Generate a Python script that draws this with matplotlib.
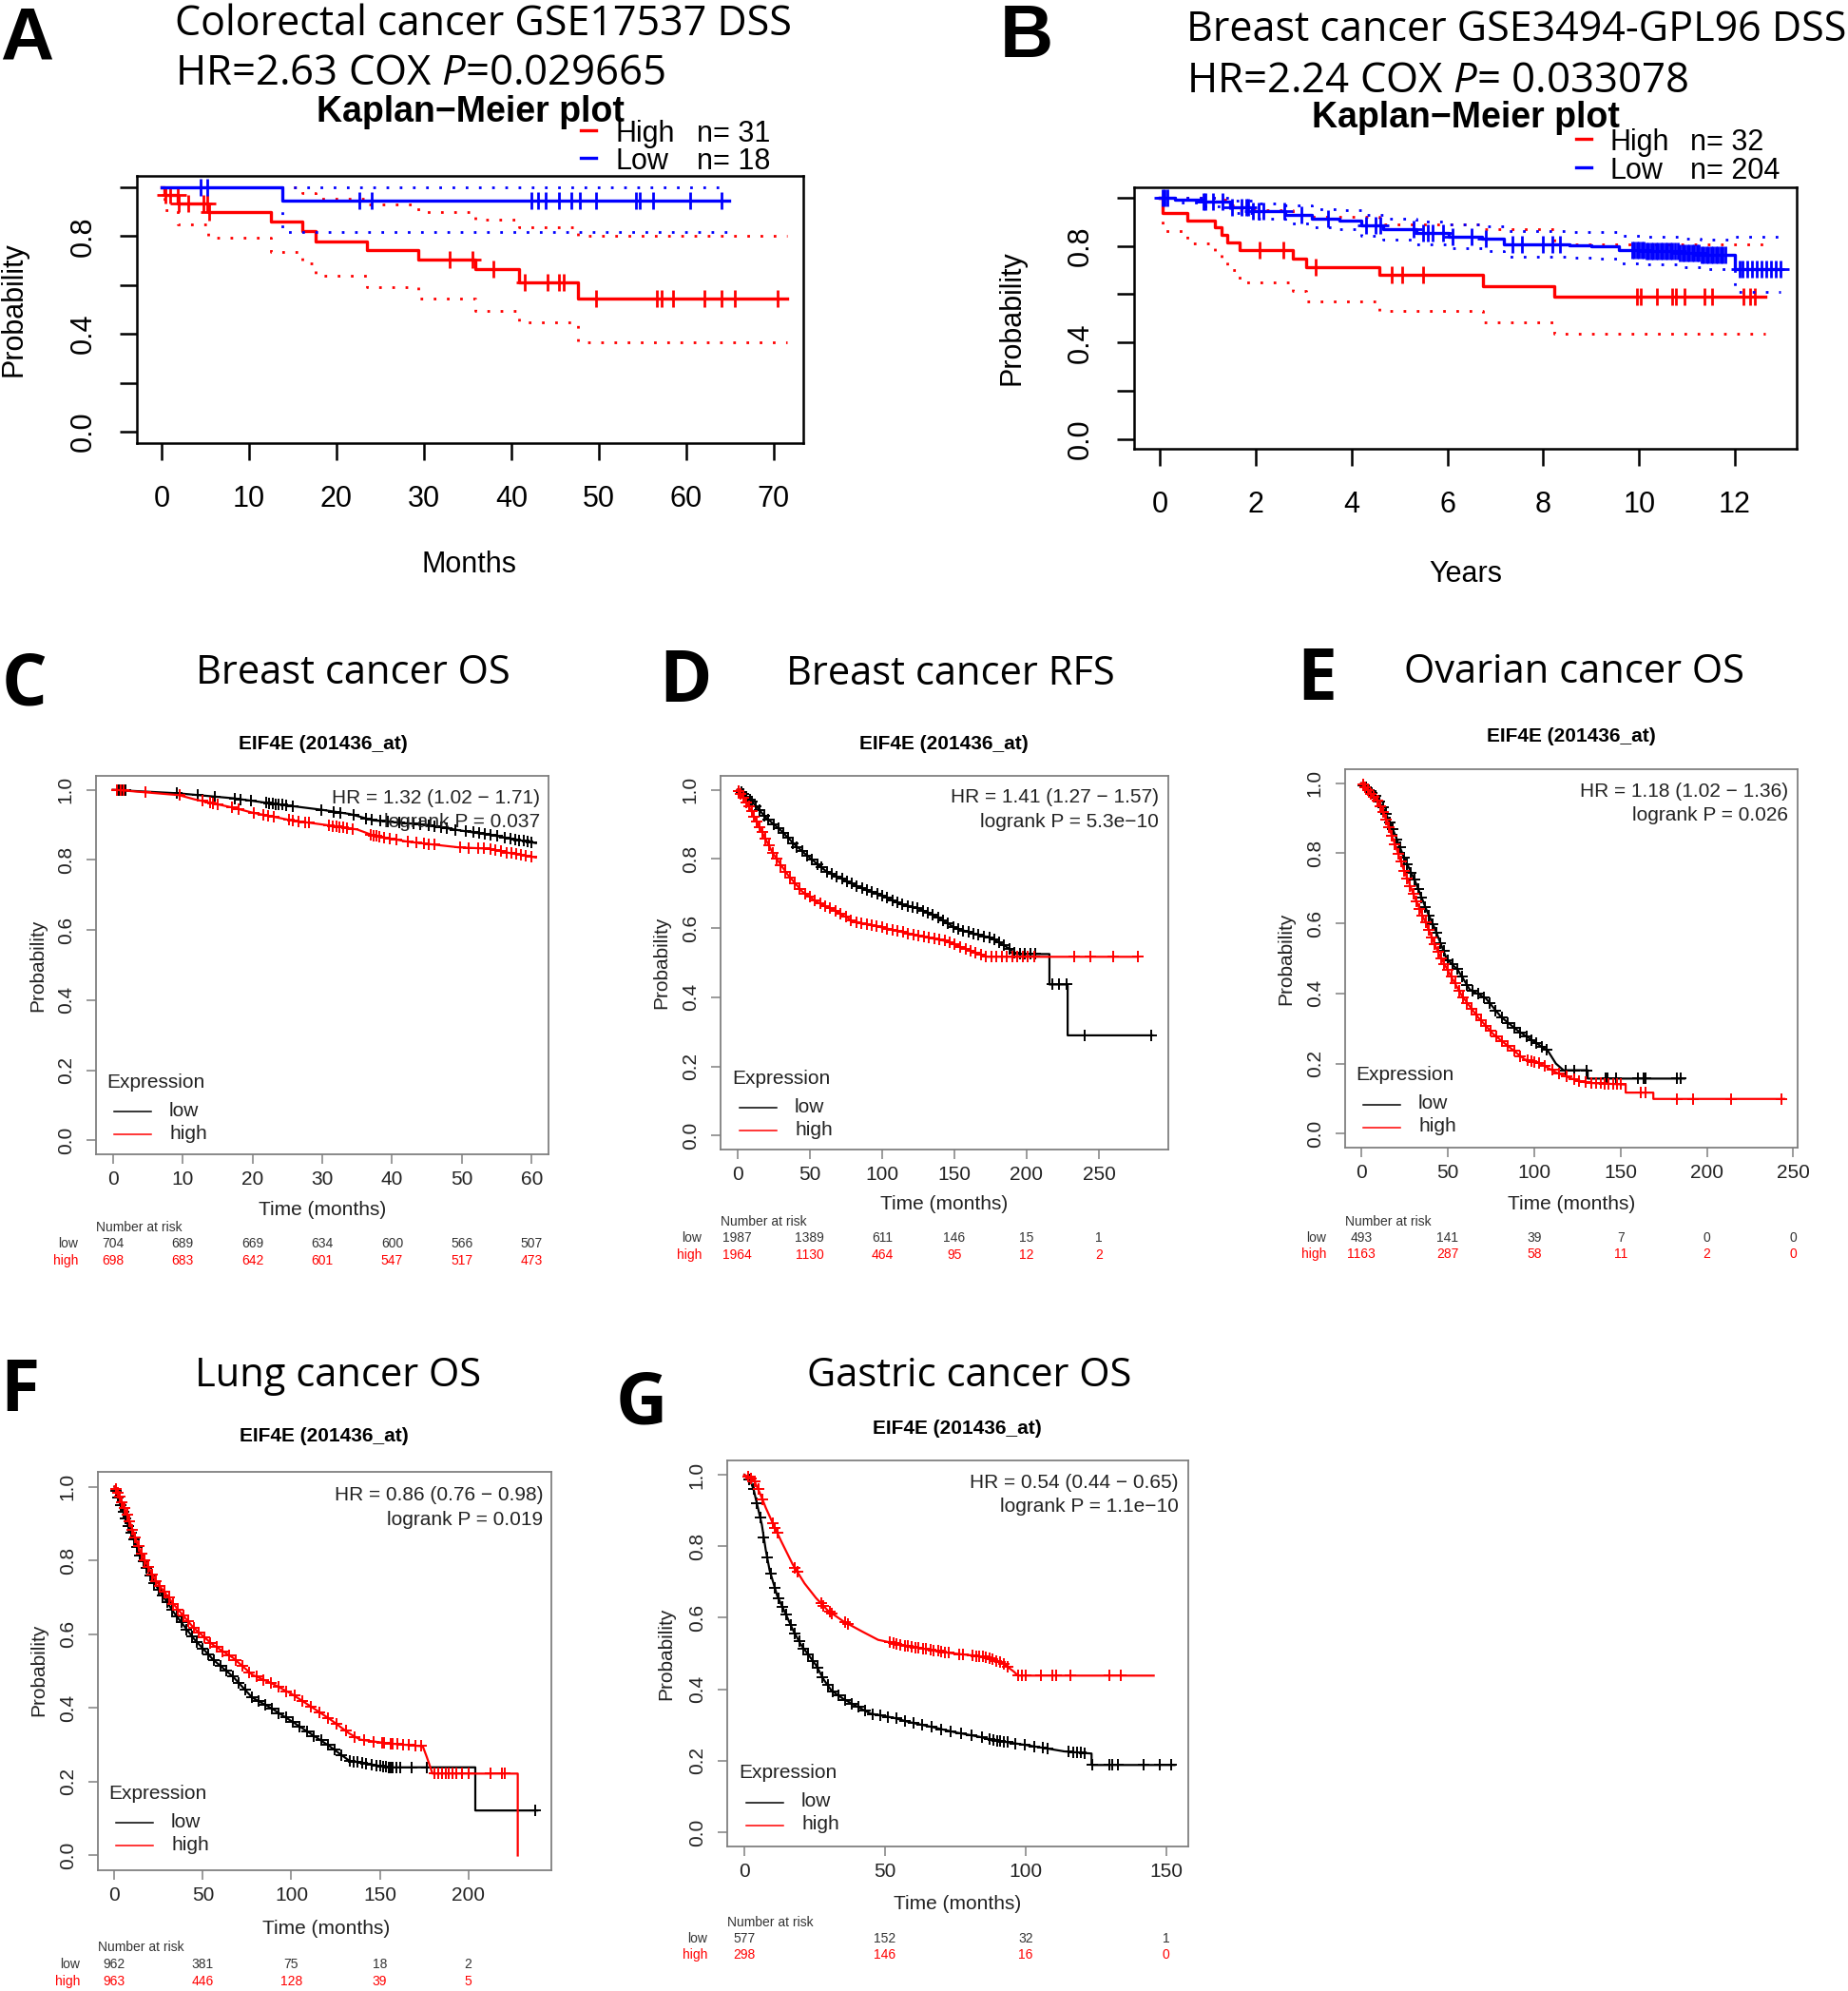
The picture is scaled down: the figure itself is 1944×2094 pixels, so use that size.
import matplotlib.pyplot as plt
import numpy as np
from matplotlib.lines import Line2D
from matplotlib.transforms import blended_transform_factory

plt.rcParams['font.family'] = ['Liberation Sans', 'DejaVu Sans']
plt.rcParams['mathtext.fontset'] = 'custom'
plt.rcParams['mathtext.rm'] = 'Open Sans'
plt.rcParams['mathtext.it'] = 'Open Sans:italic'

W, H = 1944, 2094
RED = '#ff0000'
BLUE = '#0000ff'
GREY = '#808080'

# ---------------- A: Colorectal cancer GSE17537 DSS (months) ----------------
a_high_t = [0, 0.3, 1.9, 5.3, 12.5, 16.1, 17.6, 23.5, 29.4, 35.9, 40.9, 47.6, 71.5]
a_high_s = [1.0, 0.968, 0.935, 0.90, 0.862, 0.82, 0.78, 0.742, 0.704, 0.664, 0.612, 0.545, 0.545]
a_high_lo = [1.0, 0.906, 0.849, 0.793, 0.737, 0.69, 0.637, 0.593, 0.545, 0.496, 0.447, 0.366, 0.366]
a_high_up = [1.0, 1.0, 1.0, 1.0, 1.0, 0.975, 0.954, 0.93, 0.90, 0.868, 0.837, 0.80, 0.80]
a_high_cens = [0.4, 1.0, 1.8, 2.0, 3.0, 4.8, 5.2, 5.4, 32.9, 35.6, 37.9, 41.5, 44.1, 45.4,
               46.0, 49.7, 56.7, 57.2, 58.5, 62.1, 64.0, 65.6, 70.5]
a_low_t = [0, 13.8, 64.9]
a_low_s = [1.0, 0.944, 0.944]
a_low_lo = [1.0, 0.817, 0.817]
a_low_up = [1.0, 1.0, 1.0]
a_low_cens = [4.5, 5.2, 22.6, 24.0, 42.3, 43.1, 43.9, 45.4, 46.9, 47.8, 49.7, 54.3, 54.7,
              56.2, 60.5, 64.0]
a_xticks = [0, 10, 20, 30, 40, 50, 60, 70]

# ---------------- B: Breast cancer GSE3494-GPL96 DSS (years) ----------------
b_high_t = [0, 0.05, 0.57, 1.14, 1.29, 1.4, 1.66, 2.78, 3.06, 4.57, 6.75, 8.24, 12.64]
b_high_s = [1.0, 0.938, 0.907, 0.876, 0.845, 0.814, 0.784, 0.748, 0.714, 0.679, 0.634, 0.59, 0.59]
b_high_lo = [1.0, 0.861, 0.811, 0.77, 0.735, 0.70, 0.651, 0.614, 0.572, 0.533, 0.482, 0.437, 0.437]
b_high_up = [1.0, 1.0, 1.0, 1.0, 0.99, 0.97, 0.95, 0.93, 0.92, 0.89, 0.869, 0.807, 0.807]
b_high_cens = [2.07, 2.58, 3.25, 4.83, 5.06, 5.5, 9.95, 10.03, 10.38, 10.7, 10.77, 10.95,
               11.36, 11.52, 12.18, 12.32, 12.41]
b_low_t = [0, 0.32, 0.89, 1.46, 1.92, 2.61, 3.18, 3.75, 4.21, 4.66, 5.35, 6.03, 6.72, 7.18,
           7.98, 8.55, 9.0, 9.58, 10.15, 10.83, 11.29, 12.0, 12.95]
b_low_s = [1.0, 0.992, 0.985, 0.96, 0.943, 0.93, 0.915, 0.907, 0.884, 0.869, 0.853, 0.838,
           0.83, 0.807, 0.807, 0.802, 0.80, 0.784, 0.779, 0.771, 0.765, 0.706, 0.706]
b_low_lo = [1.0, 0.98, 0.965, 0.935, 0.912, 0.895, 0.878, 0.868, 0.843, 0.826, 0.807, 0.79,
            0.781, 0.756, 0.756, 0.75, 0.747, 0.729, 0.723, 0.714, 0.706, 0.61, 0.61]
b_low_up = [1.0, 1.0, 1.0, 0.987, 0.975, 0.967, 0.954, 0.948, 0.927, 0.914, 0.9, 0.888,
            0.882, 0.862, 0.862, 0.858, 0.857, 0.843, 0.839, 0.832, 0.828, 0.84, 0.84]
b_low_cens = [0.05, 0.1, 0.15, 0.9, 0.95, 1.1, 1.3, 1.5, 1.7, 1.8, 1.85, 1.95, 2.05, 2.15,
              2.6, 2.95, 3.5, 4.3, 4.5, 4.6, 5.3, 5.5, 5.6, 5.7, 5.9, 6.1, 6.5, 6.8, 7.35,
              7.55, 8.0, 8.2, 8.35, 9.85, 9.9, 9.95, 10.0, 10.05, 10.1, 10.15, 10.2, 10.25,
              10.3, 10.35, 10.4, 10.45, 10.5, 10.55, 10.6, 10.65, 10.7, 10.75, 10.8, 10.85,
              10.9, 10.95, 11.0, 11.05, 11.1, 11.15, 11.2, 11.25, 11.3, 11.35, 11.4, 11.45,
              11.5, 11.55, 11.6, 11.65, 11.7, 11.75, 11.8, 12.1, 12.15, 12.25, 12.35, 12.45,
              12.55, 12.65, 12.75, 12.85, 12.95]
b_xticks = [0, 2, 4, 6, 8, 10, 12]

# ---------------- C: Breast cancer OS ----------------
c_low_t = [0, 9.5, 17.3, 22.8, 30, 34, 37.3, 45, 49.5, 54.5, 56.2, 60.6]
c_low_s = [1.0, 0.99, 0.976, 0.961, 0.943, 0.931, 0.913, 0.90, 0.885, 0.87, 0.864, 0.848]
c_low_cens = [0.8, 1.3, 1.8, 9.2, 12.2, 14.6, 17.5, 18.3, 19.8, 21.9, 22.4, 22.9, 23.3, 23.8,
              24.3, 24.8, 25.8, 29.8, 31.6, 32.6, 34.5, 36.2, 37.1, 38.3, 39.4, 41.0, 42.2,
              43.1, 44.0, 45.2, 46.1, 47.0, 47.9, 49.0, 50.5, 51.6, 52.4, 53.3, 54.1, 55.0,
              56.2, 56.9, 57.6, 58.2, 58.8, 59.4, 60.0]
c_high_t = [0, 0.5, 9.5, 11.7, 17.3, 20, 25.6, 31.2, 35, 37.3, 42.3, 49.5, 54, 56.2, 60.6]
c_high_s = [1.0, 1.0, 0.985, 0.973, 0.949, 0.935, 0.913, 0.898, 0.887, 0.87, 0.852, 0.836,
            0.832, 0.822, 0.807]
c_high_cens = [0.6, 1.2, 1.6, 4.7, 9.6, 12.8, 13.9, 14.4, 15.0, 17.0, 18.0, 20.2, 21.6, 22.3,
               23.1, 25.3, 25.8, 26.6, 27.5, 28.1, 31.0, 31.5, 32.0, 32.5, 33.0, 33.6, 34.3,
               36.9, 37.3, 37.7, 38.2, 38.8, 39.6, 40.6, 42.3, 43.5, 44.6, 45.3, 46.0, 49.7,
               51.0, 52.3, 53.2, 54.1, 54.8, 55.6, 56.4, 57.1, 57.8, 58.5, 59.2, 60.0]
c_xticks = [0, 10, 20, 30, 40, 50, 60]
c_risk_low = [704, 689, 669, 634, 600, 566, 507]
c_risk_high = [698, 683, 642, 601, 547, 517, 473]

# ---------------- D: Breast cancer RFS ----------------
d_low_t = [0, 4.5, 12, 19.6, 29.7, 39.7, 49.8, 62.4, 75, 87.5, 100, 112.7, 125, 137.8, 150,
           163, 175.5, 185.6, 193, 215.8, 215.8, 228.4, 228.4, 287]
d_low_s = [1.0, 0.988, 0.957, 0.92, 0.884, 0.841, 0.804, 0.761, 0.737, 0.712, 0.694, 0.67,
           0.657, 0.633, 0.602, 0.584, 0.572, 0.547, 0.525, 0.525, 0.437, 0.437, 0.29, 0.29]
d_low_cens = [1.2, 2.8, 4.1, 6.3, 8.7, 10.2, 12.9, 15.4, 18.8, 21.5, 25.1, 28.4, 31.9, 35.2,
              38.6, 41.3, 44.9, 48.2, 51.7, 55.3, 58.1, 61.8, 65.2, 68.9, 72.3, 75.6, 79.4,
              82.7, 86.1, 89.5, 93.2, 96.8, 100.4, 103.7, 107.1, 110.9, 114.2, 117.8, 121.3,
              124.6, 128.2, 131.5, 135.1, 138.7, 142.4, 145.8, 149.3, 152.6, 156.2, 159.9,
              163.1, 166.8, 170.4, 174.1, 177.5, 181.2, 184.6, 188.3, 191.8, 195.4, 198.9,
              202.5, 206.1, 217.5, 222.3, 227.8, 240.2, 286.4]
d_high_t = [0, 4.5, 9.6, 17, 24.6, 34.7, 44.8, 54.8, 67.4, 80, 100, 125, 145, 160.5, 173, 277]
d_high_s = [1.0, 0.976, 0.939, 0.878, 0.816, 0.755, 0.706, 0.676, 0.651, 0.62, 0.602, 0.578,
            0.562, 0.535, 0.517, 0.517]
d_high_cens = [1.0, 2.5, 4.4, 6.1, 7.9, 9.8, 11.6, 13.3, 15.2, 17.1, 19.4, 21.8, 24.3, 27.2,
               30.1, 33.4, 36.7, 39.9, 43.2, 46.8, 50.1, 53.6, 57.2, 60.9, 64.3, 67.8, 71.5,
               74.9, 78.6, 82.2, 85.7, 89.3, 92.9, 96.4, 100.1, 103.6, 107.3, 110.8, 114.5,
               118.1, 121.7, 125.3, 128.8, 132.4, 136.1, 139.6, 143.2, 146.9, 150.4, 154.1,
               157.7, 161.2, 164.8, 168.3, 172.0, 175.6, 179.1, 182.7, 186.4, 189.9, 193.5,
               197.2, 200.8, 205.3, 232.8, 244.1, 259.9, 277.2]
d_xticks = [0, 50, 100, 150, 200, 250]
d_risk_low = [1987, 1389, 611, 146, 15, 1]
d_risk_high = [1964, 1130, 464, 95, 12, 2]

# ---------------- E: Ovarian cancer OS ----------------
e_low_t = [0, 8.6, 13.1, 17.6, 24.4, 31.2, 38, 42.5, 49.3, 56, 62.8, 71.9, 80.9, 90, 99, 108,
           112.6, 117, 131, 131, 187]
e_low_s = [1.0, 0.961, 0.925, 0.877, 0.792, 0.72, 0.635, 0.586, 0.50, 0.466, 0.411, 0.387,
           0.333, 0.296, 0.266, 0.236, 0.20, 0.181, 0.181, 0.157, 0.157]
e_low_cens = [1.1, 2.6, 4.3, 6.2, 8.1, 10.3, 12.4, 14.2, 16.5, 18.3, 20.6, 22.4, 24.7, 26.5,
              28.8, 30.6, 32.9, 34.8, 37.1, 39.2, 41.4, 43.5, 45.8, 47.6, 50.2, 52.7, 55.4,
              58.1, 61.3, 64.2, 67.6, 70.9, 74.3, 77.8, 81.2, 84.9, 88.4, 92.1, 95.7, 98.6,
              101.4, 104.3, 107.2, 118.5, 123.4, 130.6, 141.2, 142.3, 147.6, 160.1, 163.4,
              164.6, 182.6, 185.0]
e_high_t = [0, 8.6, 13.1, 17.6, 24.4, 31.2, 38, 44.8, 51.5, 58.3, 67.4, 76.4, 85.4, 94.5,
            103.5, 112.6, 121.6, 130.6, 153, 153, 169, 169, 244.8]
e_high_s = [1.0, 0.955, 0.913, 0.852, 0.756, 0.671, 0.593, 0.514, 0.453, 0.393, 0.333, 0.284,
            0.248, 0.212, 0.20, 0.175, 0.157, 0.145, 0.14, 0.117, 0.117, 0.099, 0.099]
e_high_cens = [0.9, 2.3, 3.9, 5.6, 7.4, 9.1, 10.8, 12.5, 14.3, 16.0, 17.8, 19.5, 21.3, 23.0,
               24.8, 26.6, 28.3, 30.1, 31.9, 33.7, 35.4, 37.2, 39.0, 40.8, 42.6, 44.4, 46.3,
               48.1, 50.0, 52.1, 54.3, 56.6, 58.9, 61.3, 63.8, 66.4, 69.1, 71.9, 74.8, 77.9,
               81.2, 84.6, 88.3, 92.1, 96.2, 98.4, 100.2, 102.7, 106.1, 110.3, 114.6, 118.9,
               123.5, 126.2, 129.8, 133.1, 135.9, 138.4, 140.7, 143.2, 146.0, 148.1, 150.3,
               162.0, 164.6, 182.6, 192.0, 214.0, 243.0]
e_xticks = [0, 50, 100, 150, 200, 250]
e_risk_low = [493, 141, 39, 7, 0, 0]
e_risk_high = [1163, 287, 58, 11, 2, 0]

# ---------------- F: Lung cancer OS ----------------
f_low_t = [0, 3.3, 7.7, 14.3, 23, 34, 45, 56, 67, 77.9, 88.8, 99.8, 110.7, 121.7, 132.7,
           154.6, 204, 204, 239]
f_low_s = [1.0, 0.952, 0.895, 0.815, 0.735, 0.656, 0.587, 0.53, 0.485, 0.428, 0.399, 0.365,
           0.331, 0.296, 0.257, 0.239, 0.239, 0.122, 0.122]
f_low_cens = [0.8, 2.1, 3.5, 4.9, 6.2, 7.8, 9.3, 10.9, 12.6, 14.4, 16.3, 18.2, 20.4, 22.6,
              24.9, 27.3, 29.8, 32.4, 35.1, 37.9, 40.8, 43.7, 46.8, 49.9, 53.1, 56.4, 59.8,
              63.2, 66.7, 70.3, 73.9, 77.6, 81.4, 85.2, 89.1, 93.0, 96.9, 100.9, 104.8, 108.8,
              112.7, 116.7, 120.6, 124.5, 128.3, 133.1, 135.2, 137.4, 140.1, 142.3, 145.4,
              148.2, 150.1, 152.0, 153.3, 155.1, 156.4, 157.5, 159.2, 161.3, 168.0, 176.6, 238.0]
f_high_t = [0, 3.3, 7.7, 14.3, 23, 34, 45, 56, 67, 77.9, 88.8, 99.8, 110.7, 121.7, 132.7,
            139, 154.6, 174.3, 176.5, 179.8, 228, 228]
f_high_s = [1.0, 0.969, 0.918, 0.827, 0.747, 0.678, 0.616, 0.57, 0.536, 0.49, 0.467, 0.439,
            0.405, 0.37, 0.331, 0.314, 0.304, 0.296, 0.268, 0.222, 0.222, 0.0]
f_high_cens = [0.6, 1.8, 3.0, 4.3, 5.7, 7.1, 8.6, 10.2, 11.8, 13.5, 15.3, 17.2, 19.2, 21.3,
               23.5, 25.8, 28.2, 30.7, 33.3, 36.0, 38.8, 41.7, 44.7, 47.8, 51.0, 54.3, 57.7,
               61.2, 64.8, 68.5, 72.3, 76.2, 80.2, 84.3, 88.5, 92.8, 97.2, 101.7, 106.3, 111.0,
               115.8, 120.7, 125.7, 130.8, 136.0, 141.3, 146.7, 151.2, 152.4, 156.1, 157.3,
               160.2, 163.1, 166.3, 170.0, 173.2, 181.0, 183.1, 185.0, 187.2, 189.1, 191.3,
               193.2, 196.4, 200.1, 212.7, 219.0, 220.4]
f_xticks = [0, 50, 100, 150, 200]
f_risk_low = [962, 381, 75, 18, 2]
f_risk_high = [963, 446, 128, 39, 5]

# ---------------- G: Gastric cancer OS ----------------
g_low_t = [0, 2.1, 3.4, 4.8, 6.2, 7.6, 9, 11.7, 14.5, 17.2, 20, 22.8, 25.5, 28.3, 31, 35.2,
           39.3, 44.8, 53.1, 58.6, 66.9, 75.2, 83.5, 87.6, 100, 107, 113.8, 123.5, 123.5, 153]
g_low_s = [1.0, 0.985, 0.955, 0.908, 0.861, 0.79, 0.732, 0.661, 0.614, 0.567, 0.526, 0.496,
           0.467, 0.426, 0.396, 0.373, 0.355, 0.332, 0.32, 0.308, 0.294, 0.279, 0.267, 0.259,
           0.244, 0.235, 0.226, 0.22, 0.188, 0.188]
g_low_cens = [1.8, 3.2, 4.4, 5.6, 6.9, 8.1, 9.3, 10.8, 12.1, 13.5, 14.8, 16.4, 17.9, 19.5,
              21.1, 22.7, 24.3, 26.0, 27.8, 29.6, 31.5, 33.6, 35.8, 38.1, 40.5, 43.0, 45.6,
              48.3, 51.1, 54.0, 57.0, 60.1, 63.3, 66.6, 70.0, 73.5, 77.1, 80.8, 84.6, 87.2,
              88.5, 89.8, 91.1, 92.4, 93.7, 96.5, 99.8, 103.2, 106.1, 107.8, 115.3, 117.0,
              118.4, 119.7, 121.0, 123.6, 129.7, 131.0, 132.9, 142.0, 147.6, 151.8]
g_high_t = [0, 3.4, 5.5, 7.6, 10.3, 13.1, 17.2, 21.4, 25.5, 29.7, 35.2, 42, 47.6, 58.6, 72.4,
            86.2, 91.8, 95.9, 97.3, 145.6]
g_high_s = [1.0, 0.985, 0.949, 0.908, 0.861, 0.814, 0.749, 0.696, 0.655, 0.62, 0.59, 0.561,
            0.538, 0.52, 0.502, 0.49, 0.473, 0.449, 0.438, 0.438]
g_high_cens = [1.2, 2.4, 3.6, 4.9, 6.4, 10.1, 10.9, 11.7, 17.9, 18.8, 27.3, 28.1, 30.4, 31.2,
               35.8, 36.9, 51.8, 53.0, 54.2, 55.6, 57.1, 58.3, 59.5, 60.8, 62.0, 63.4, 64.7,
               66.1, 67.4, 68.8, 69.9, 71.2, 72.6, 76.3, 77.8, 81.2, 82.4, 83.6, 84.8, 86.0,
               87.2, 88.4, 89.6, 91.0, 92.3, 93.5, 97.3, 98.7, 100.0, 105.6, 109.7, 110.8,
               115.9, 129.7, 133.8]
g_xticks = [0, 50, 100, 150]
g_risk_low = [577, 152, 32, 1]
g_risk_high = [298, 146, 16, 0]

km_yticks = [0.0, 0.2, 0.4, 0.6, 0.8, 1.0]

fig = plt.figure(figsize=(W / 100, H / 100), dpi=100)


def put(x, y, s, **kw):
    # place text with pixel coordinates measured from the top-left corner
    return fig.text(x / W, 1 - y / H, s, **kw)


def hline(x0, x1, y, **kw):
    fig.add_artist(Line2D([x0 / W, x1 / W], [1 - y / H, 1 - y / H],
                          transform=fig.transFigure, **kw))


def make_axes(l, t, r, b):
    return fig.add_axes([l / W, 1 - b / H, (r - l) / W, (b - t) / H])


def step_value(ts, ss, tc):
    idx = np.searchsorted(ts, tc, side='right') - 1
    return np.asarray(ss)[idx]


def r_panel(box, xlim, ylim, xticks, groups):
    ax = make_axes(*box)
    for ts, ss, lo, up, cens, col in groups:
        ax.step(ts, lo, where='post', color=col, lw=2.0, ls=(0, (1, 4)))
        ax.step(ts, up, where='post', color=col, lw=2.0, ls=(0, (1, 4)))
        ax.step(ts, ss, where='post', color=col, lw=2.4)
        ax.plot(cens, step_value(ts, ss, cens), ls='none', marker='+', ms=13, mew=2.0,
                color=col)
    ax.set_xlim(*xlim)
    ax.set_ylim(*ylim)
    ax.set_xticks(xticks)
    ax.set_xticklabels([str(v) for v in xticks])
    ax.set_yticks(km_yticks)
    ax.set_yticklabels(['0.0', '', '0.4', '', '0.8', ''])
    for sp in ax.spines.values():
        sp.set_linewidth(1.8)
    ax.tick_params(axis='x', length=13, width=1.8, pad=19, labelsize=22)
    ax.tick_params(axis='y', length=13, width=1.8, pad=17, labelsize=22, labelrotation=90)
    for lbl in ax.get_yticklabels():
        lbl.set_va('center')
    return ax


# ---------------- panel A ----------------
r_panel((144, 185, 845, 466), (-2.83, 73.4), (-0.047, 1.047), a_xticks,
        [(a_high_t, a_high_s, a_high_lo, a_high_up, a_high_cens, RED),
         (a_low_t, a_low_s, a_low_lo, a_low_up, a_low_cens, BLUE)])
put(0, 63, 'A', fontsize=56, weight='bold', va='baseline')
put(184, 37, 'Colorectal cancer GSE17537 DSS', family='Open Sans', fontsize=31, va='baseline')
put(184, 89, r'HR=2.63 COX $P$=0.029665', family='Open Sans', fontsize=31.5, va='baseline')
put(495, 128, 'Kaplan\u2212Meier plot', fontsize=27, weight='bold', ha='center', va='baseline')
hline(611, 627, 137, color=RED, lw=2.4)
hline(611, 627, 166, color=BLUE, lw=2.4)
put(648, 141, 'High', fontsize=22, va='center')
put(733, 141, 'n= 31', fontsize=22, va='center')
put(648, 170, 'Low', fontsize=22, va='center')
put(733, 170, 'n= 18', fontsize=22, va='center')
put(494, 594, 'Months', fontsize=22, ha='center', va='center')
put(15, 325, 'Probability', fontsize=22, rotation=90, ha='center', va='center')

# ---------------- panel B ----------------
r_panel((1193, 197, 1890, 472), (-0.54, 13.29), (-0.04, 1.043), b_xticks,
        [(b_high_t, b_high_s, b_high_lo, b_high_up, b_high_cens, RED),
         (b_low_t, b_low_s, b_low_lo, b_low_up, b_low_cens, BLUE)])
put(1052, 60, 'B', fontsize=56, weight='bold', va='baseline')
put(1248, 43, 'Breast cancer GSE3494-GPL96 DSS', family='Open Sans', fontsize=31, va='baseline')
put(1248, 97, r'HR=2.24 COX $P$= 0.033078', family='Open Sans', fontsize=31.5, va='baseline')
put(1542, 134, 'Kaplan\u2212Meier plot', fontsize=27, weight='bold', ha='center', va='baseline')
hline(1658, 1674, 146, color=RED, lw=2.4)
hline(1658, 1674, 176, color=BLUE, lw=2.4)
put(1694, 150, 'High', fontsize=22, va='center')
put(1778, 150, 'n= 32', fontsize=22, va='center')
put(1694, 180, 'Low', fontsize=22, va='center')
put(1778, 180, 'n= 204', fontsize=22, va='center')
put(1542, 604, 'Years', fontsize=22, ha='center', va='center')
put(1064, 334, 'Probability', fontsize=22, rotation=90, ha='center', va='center')


# ---------------- KM-plotter style panels ----------------
def kmp_panel(box, xlim, xticks, low, high, risk_low, risk_high, letter, title, hr, lay):
    ax = make_axes(*box)
    for (ts, ss, cens), col in ((low, 'black'), (high, RED)):
        ax.plot(ts, ss, color=col, lw=1.6)
        ax.plot(cens, np.interp(cens, ts, ss), ls='none', marker='+', ms=8.5, mew=1.4,
                color=col)
    ax.set_xlim(*xlim)
    ax.set_ylim(-0.04, 1.04)
    ax.set_xticks(xticks)
    ax.set_xticklabels([str(v) for v in xticks])
    ax.set_yticks(km_yticks)
    ax.set_yticklabels(['%.1f' % v for v in km_yticks])
    for sp in ax.spines.values():
        sp.set_linewidth(1.3)
        sp.set_color(GREY)
    ax.tick_params(axis='both', length=7, width=1.1, color=GREY, labelcolor='#222222',
                   labelsize=15)
    ax.tick_params(axis='x', pad=5)
    ax.tick_params(axis='y', pad=9, labelrotation=90)
    for lbl in ax.get_yticklabels():
        lbl.set_va('center')

    l, t, r, b = box
    put(*lay['letter'], letter, family='Open Sans', weight='bold', fontsize=54, va='baseline')
    put(*lay['title'], title, family='Open Sans', fontsize=30, ha='center', va='baseline')
    put(*lay['sub'], 'EIF4E (201436_at)', weight='bold', fontsize=15, ha='center',
        va='center')
    hx, hy1, hy2 = lay['hr']
    put(hx, hy1, hr[0], fontsize=15, ha='right', va='baseline', color='#222222')
    put(hx, hy2, hr[1], fontsize=15, ha='right', va='baseline', color='#222222')
    ex, ey = lay['leg']
    put(ex, ey, 'Expression', fontsize=15, va='center', color='#222222')
    hline(ex + 8, ex + 47, ey + 31, color='black', lw=1.1)
    hline(ex + 8, ex + 47, ey + 55, color=RED, lw=1.1)
    put(ex + 66, ey + 30, 'low', fontsize=15, va='center', color='#222222')
    put(ex + 66, ey + 54, 'high', fontsize=15, va='center', color='#222222')
    put(*lay['xlab'], 'Time (months)', fontsize=15, ha='center', va='center', color='#222222')
    put(*lay['ylab'], 'Probability', fontsize=15, rotation=90, ha='center', va='center',
        color='#222222')

    y_head, y_low, y_high = lay['risk']
    put(l, y_head, 'Number at risk', fontsize=10, va='center', color='#333333')
    put(lay['risk_x'], y_low, 'low', fontsize=10, ha='right', va='center', color='#333333')
    put(lay['risk_x'], y_high, 'high', fontsize=10, ha='right', va='center', color=RED)
    tr = blended_transform_factory(ax.transData, fig.transFigure)
    for tx, nl, nh in zip(xticks, risk_low, risk_high):
        ax.text(tx, 1 - y_low / H, str(nl), transform=tr, fontsize=10, ha='center',
                va='center', color='#333333', clip_on=False)
        ax.text(tx, 1 - y_high / H, str(nh), transform=tr, fontsize=10, ha='center',
                va='center', color=RED, clip_on=False)
    return ax


kmp_panel((101, 816, 577, 1214), (-2.4, 62.4), c_xticks,
          (c_low_t, c_low_s, c_low_cens), (c_high_t, c_high_s, c_high_cens),
          c_risk_low, c_risk_high, 'C', 'Breast cancer OS',
          ('HR = 1.32 (1.02 \u2212 1.71)', 'logrank P = 0.037'),
          dict(letter=(2, 742), title=(371, 719), sub=(340, 783), hr=(568, 845, 870),
               leg=(112, 1138), xlab=(339, 1272), ylab=(40, 1015),
               risk=(1291, 1308, 1326), risk_x=82))

kmp_panel((758, 816, 1229, 1209), (-11.6, 298), d_xticks,
          (d_low_t, d_low_s, d_low_cens), (d_high_t, d_high_s, d_high_cens),
          d_risk_low, d_risk_high, 'D', 'Breast cancer RFS',
          ('HR = 1.41 (1.27 \u2212 1.57)', 'logrank P = 5.3e\u221210'),
          dict(letter=(693, 738), title=(1000, 720), sub=(993, 783), hr=(1219, 844, 870),
               leg=(770, 1134), xlab=(993, 1267), ylab=(696, 1012),
               risk=(1285, 1302, 1320), risk_x=738))

kmp_panel((1415, 809, 1891, 1207), (-9.35, 252.5), e_xticks,
          (e_low_t, e_low_s, e_low_cens), (e_high_t, e_high_s, e_high_cens),
          e_risk_low, e_risk_high, 'E', 'Ovarian cancer OS',
          ('HR = 1.18 (1.02 \u2212 1.36)', 'logrank P = 0.026'),
          dict(letter=(1364, 736), title=(1656, 718), sub=(1653, 775), hr=(1881, 838, 863),
               leg=(1426, 1131), xlab=(1653, 1266), ylab=(1353, 1008),
               risk=(1285, 1302, 1319), risk_x=1395))

kmp_panel((103, 1548, 580, 1967), (-9.35, 247), f_xticks,
          (f_low_t, f_low_s, f_low_cens), (f_high_t, f_high_s, f_high_cens),
          f_risk_low, f_risk_high, 'F', 'Lung cancer OS',
          ('HR = 0.86 (0.76 \u2212 0.98)', 'logrank P = 0.019'),
          dict(letter=(0, 1484), title=(356, 1458), sub=(341, 1511), hr=(571, 1578, 1604),
               leg=(114, 1886), xlab=(343, 2028), ylab=(41, 1756),
               risk=(2048, 2066, 2084), risk_x=84))

kmp_panel((765, 1536, 1250, 1942), (-6.1, 157.9), g_xticks,
          (g_low_t, g_low_s, g_low_cens), (g_high_t, g_high_s, g_high_cens),
          g_risk_low, g_risk_high, 'G', 'Gastric cancer OS',
          ('HR = 0.54 (0.44 \u2212 0.65)', 'logrank P = 1.1e\u221210'),
          dict(letter=(648, 1497), title=(1020, 1458), sub=(1007, 1502), hr=(1240, 1565, 1590),
               leg=(777, 1865), xlab=(1007, 2002), ylab=(701, 1739),
               risk=(2022, 2039, 2056), risk_x=744))

fig.savefig('out.png', dpi=100)
